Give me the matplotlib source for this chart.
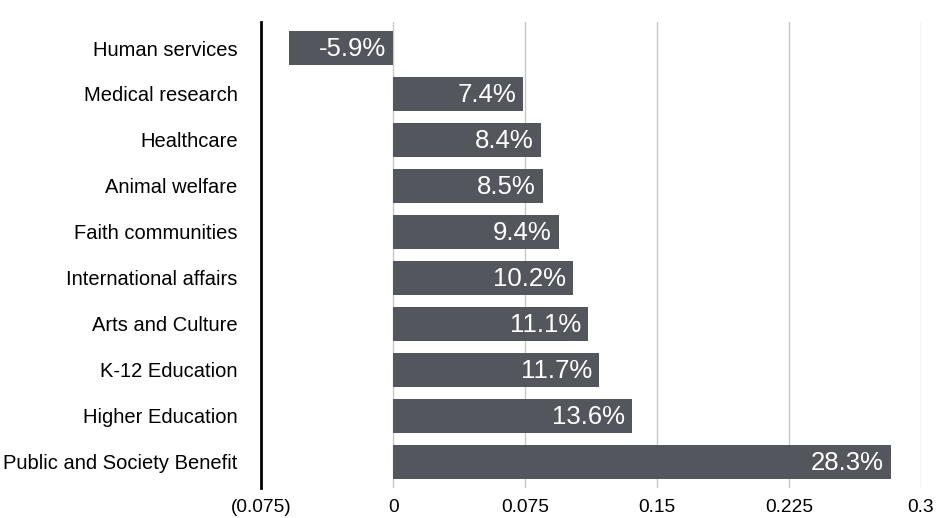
import matplotlib.pyplot as plt
import numpy as np

categories = ["Human services", "Medical research", "Healthcare", "Animal welfare",
              "Faith communities", "International affairs", "Arts and Culture",
              "K-12 Education", "Higher Education", "Public and Society Benefit"]
values = [-0.059, 0.074, 0.084, 0.085, 0.094, 0.102, 0.111, 0.117, 0.136, 0.283]
xticks = [-0.075, 0, 0.075, 0.15, 0.225, 0.3]
xtick_labels = ["(0.075)", "0", "0.075", "0.15", "0.225", "0.3"]


def main():
    plt.rcParams['font.family'] = ['Liberation Sans', 'DejaVu Sans']
    fig = plt.figure(figsize=(9.36, 5.18), dpi=100)
    ax = fig.add_axes([0.279, 0.058, 0.705, 0.8995])

    y = np.arange(len(categories))
    ax.barh(y, values, height=0.72, color='#53565c', zorder=3)

    for yi, v in zip(y, values):
        ax.annotate(f"{v * 100:.1f}%", xy=(max(v, 0), yi), xytext=(-5, -1),
                    textcoords='offset points', ha='right', va='center',
                    color='white', fontsize=18.5, zorder=4)

    ax.set_xlim(-0.075, 0.3)
    ax.set_ylim(len(categories) - 0.435, -0.565)
    ax.set_yticks(y)
    ax.set_yticklabels(categories, fontsize=14.5)
    ax.set_xticks(xticks)
    ax.set_xticklabels(xtick_labels, fontsize=13.8)
    ax.tick_params(axis='both', length=0)
    ax.tick_params(axis='y', pad=17)
    ax.tick_params(axis='x', pad=8)

    for xv in xticks[1:]:
        ax.axvline(xv, color='#c8c8c8', linewidth=1, zorder=1)

    for side in ['top', 'right', 'bottom']:
        ax.spines[side].set_visible(False)
    ax.spines['left'].set_color('black')
    ax.spines['left'].set_linewidth(2)

    fig.savefig("out.png")


if __name__ == "__main__":
    main()
